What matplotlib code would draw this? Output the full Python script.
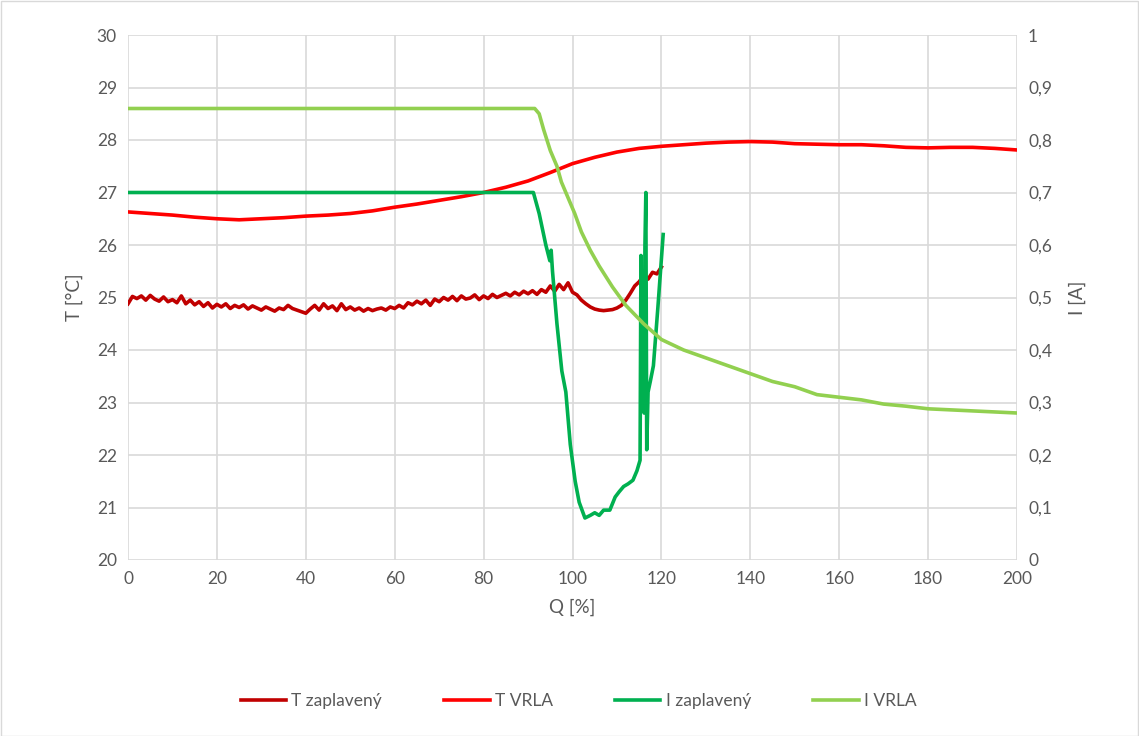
import numpy as np
import matplotlib
matplotlib.use("Agg")
import matplotlib.pyplot as plt
from matplotlib.patches import Rectangle
from matplotlib.ticker import FuncFormatter

plt.rcParams['font.family'] = ['Lato', 'DejaVu Sans']

# ---- data ----
t_zap = [24.88, 25.02, 24.98, 25.03, 24.95, 25.04, 24.97, 24.93, 25.01, 24.92, 24.96,
         24.90, 25.03, 24.88, 24.95, 24.86, 24.92, 24.83, 24.90, 24.80, 24.87,
         24.82, 24.88, 24.79, 24.85, 24.81, 24.86, 24.78, 24.84, 24.80, 24.76,
         24.82, 24.78, 24.74, 24.80, 24.77, 24.85, 24.79, 24.76, 24.73, 24.70,
         24.78, 24.85, 24.76, 24.88, 24.79, 24.84, 24.75, 24.88, 24.77, 24.82,
         24.76, 24.80, 24.74, 24.79, 24.75, 24.78, 24.80, 24.76, 24.82, 24.79,
         24.85, 24.80, 24.90, 24.86, 24.93, 24.88, 24.95, 24.85, 24.97, 24.92,
         25.00, 24.95, 25.02, 24.94, 25.03, 24.97, 24.99, 25.05, 24.96, 25.03,
         24.98, 25.06, 25.00, 25.04, 25.08, 25.03, 25.10, 25.05, 25.12, 25.07,
         25.13, 25.06, 25.15, 25.10, 25.22, 25.12, 25.25, 25.15, 25.28, 25.10,
         25.05, 24.95, 24.88, 24.82, 24.78, 24.76, 24.75, 24.76, 24.77, 24.80,
         24.85, 24.95, 25.08, 25.22, 25.30, 25.42, 25.35, 25.48, 25.45, 25.58]
t_zap_q = np.linspace(0, 120, len(t_zap))

t_vrla_q = [0, 5, 10, 15, 20, 25, 30, 35, 40, 45, 50, 55, 60, 65, 70, 75, 80, 85, 90, 95, 100,
            105, 110, 115, 120, 125, 130, 135, 140, 145, 150, 155, 160, 165, 170, 175, 180,
            185, 190, 195, 200]
t_vrla = [26.63, 26.60, 26.57, 26.53, 26.50, 26.48, 26.50, 26.52, 26.55, 26.57, 26.60, 26.65,
          26.72, 26.78, 26.85, 26.92, 27.00, 27.10, 27.22, 27.38, 27.55, 27.67, 27.77, 27.84,
          27.88, 27.91, 27.94, 27.96, 27.97, 27.96, 27.93, 27.92, 27.91, 27.91, 27.89, 27.86,
          27.85, 27.86, 27.86, 27.84, 27.81]

i_zap_q = [0, 91.2, 92.5, 94, 94.9, 95.2, 95.5, 96.5, 97.6, 98.5, 99.5, 100.6, 101.5, 102.8,
           104, 105, 106, 107, 108.4, 109.6, 110.5, 111.5, 112.5, 113.6, 114.5, 115.2, 115.4,
           115.6, 115.8, 116.1, 116.3, 116.5, 116.7, 117.0, 117.5, 118.2, 119.2, 120.4]
i_zap = [0.70, 0.70, 0.66, 0.60, 0.57, 0.59, 0.55, 0.45, 0.36, 0.32, 0.22, 0.15, 0.11, 0.08,
         0.085, 0.09, 0.085, 0.095, 0.095, 0.12, 0.13, 0.14, 0.145, 0.152, 0.17, 0.19, 0.58,
         0.30, 0.55, 0.28, 0.60, 0.70, 0.21, 0.32, 0.34, 0.37, 0.48, 0.62]

i_vrla_q = [0, 91.5, 92.5, 93.5, 95, 96.5, 97.5, 99, 100.5, 102, 104, 106, 109, 112, 116, 120,
            125, 130, 135, 140, 145, 150, 155, 160, 165, 170, 175, 180, 185, 190, 195, 200]
i_vrla = [0.86, 0.86, 0.85, 0.82, 0.78, 0.75, 0.72, 0.69, 0.66, 0.625, 0.59, 0.56, 0.52, 0.485,
          0.45, 0.42, 0.40, 0.385, 0.37, 0.355, 0.34, 0.33, 0.315, 0.31, 0.305, 0.297, 0.293,
          0.288, 0.286, 0.284, 0.282, 0.28]

x_ticks = list(range(0, 201, 20))
t_ticks = list(range(20, 31))
i_ticks = [0, 0.1, 0.2, 0.3, 0.4, 0.5, 0.6, 0.7, 0.8, 0.9, 1]

c_tzap, c_tvrla, c_izap, c_ivrla = '#C00000', '#FF0000', '#00B050', '#92D050'
txt = '#595959'
grid = '#D9D9D9'

fig = plt.figure(figsize=(11.39, 7.36), dpi=100)
ax = fig.add_axes([128/1139, 1-560/736, (1017-128)/1139, (560-35)/736])
ax2 = ax.twinx()

lw = 2.6
l1, = ax.plot(t_zap_q, t_zap, color=c_tzap, lw=lw, label='T zaplavený')
l2, = ax.plot(t_vrla_q, t_vrla, color=c_tvrla, lw=lw, label='T VRLA')
l3, = ax2.plot(i_zap_q, i_zap, color=c_izap, lw=lw, label='I zaplavený')
l4, = ax2.plot(i_vrla_q, i_vrla, color=c_ivrla, lw=lw, label='I VRLA')

ax.set_xlim(0, 200)
ax.set_ylim(20, 30)
ax2.set_ylim(0, 1)
ax.set_xticks(x_ticks)
ax.set_yticks(t_ticks)
ax2.set_yticks(i_ticks)
ax2.yaxis.set_major_formatter(FuncFormatter(lambda v, p: ('%g' % round(v, 2)).replace('.', ',')))
ax.grid(True, color=grid, lw=1.2)
ax.set_axisbelow(True)
for a in (ax, ax2):
    for s in a.spines.values():
        s.set_visible(False)
    a.tick_params(length=0, labelsize=12.5, colors=txt, pad=8)

ax.set_xlabel('Q [%]', fontsize=13.5, color=txt, labelpad=8)
ax.set_ylabel('T [°C]', fontsize=13.5, color=txt, labelpad=10)
ax2.set_ylabel('I [A]', fontsize=13.5, color=txt, labelpad=12)

fig.legend(handles=[l1, l2, l3, l4], loc='center', bbox_to_anchor=(0.508, 1-701/736), ncol=4,
           frameon=False, fontsize=12.5, labelcolor=txt, handlelength=2.6, columnspacing=3.6,
           handletextpad=0.3)

fig.patches.append(Rectangle((0.5/1139, 0.5/736), 1-1.5/1139, 1-1.5/736, transform=fig.transFigure,
                             fill=False, edgecolor=grid, lw=1))
fig.savefig('out.png', dpi=100)
